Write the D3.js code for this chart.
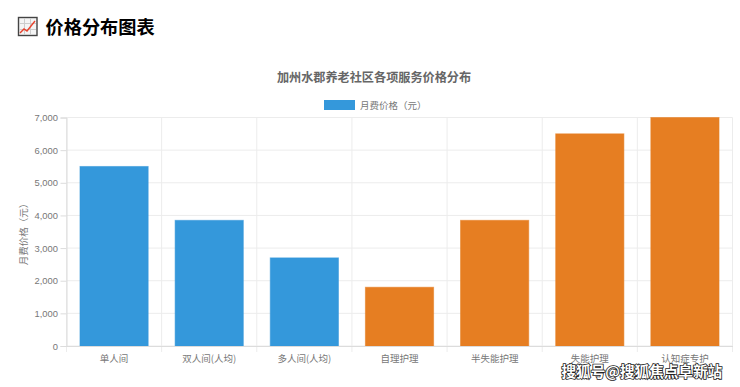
<!DOCTYPE html>
<html>
<head>
<meta charset="utf-8">
<script src="https://cdn.jsdelivr.net/npm/d3@7"></script>
<style>
    body { margin: 0; background: #fff; }
    svg { display: block; font-family: "Liberation Sans", "Noto Sans CJK SC", sans-serif; }
    .cjk { font-family: "Noto Sans CJK SC", sans-serif; }
</style>
</head>
<body>
<svg id="chart" width="740" height="387"></svg>
<script>
const categories = ["单人间", "双人间(人均)", "多人间(人均)", "自理护理", "半失能护理", "失能护理", "认知症专护"];
const prices = [5500, 3850, 2700, 1800, 3850, 6500, 7000];
const barColors = ["#3498db", "#3498db", "#3498db", "#e67e22", "#e67e22", "#e67e22", "#e67e22"];
const yTicks = [0, 1000, 2000, 3000, 4000, 5000, 6000, 7000];

const svg = d3.select("#chart");
const margin = { top: 117.5, right: 7.5, bottom: 41, left: 66.5 };
const width = 740 - margin.left - margin.right;
const height = 387 - margin.top - margin.bottom;

const x = d3.scaleBand().domain(categories).range([0, width]).paddingInner(0.283).paddingOuter(0.1415);
const y = d3.scaleLinear().domain([0, 7000]).range([height, 0]);
const step = width / categories.length;

// page heading with the little chart icon
const icon = svg.append("g").attr("transform", "translate(18,17)");
icon.append("rect").attr("x", 0.5).attr("y", 0.5).attr("width", 18.5).attr("height", 18)
    .attr("fill", "#f4f4f4").attr("stroke", "#444").attr("stroke-width", 1.4);
icon.append("path").attr("d", "M1 6.5H18M1 12.5H18M6.5 1V18M12.5 1V18").attr("stroke", "#ccc").attr("fill", "none");
icon.append("path").attr("d", "M2 16L6 12L9 14L17 4").attr("stroke", "#e8432e").attr("stroke-width", 1.4).attr("fill", "none");

svg.append("text").attr("class", "cjk").attr("x", 45.5).attr("y", 33.5)
    .attr("font-size", 18.2).attr("font-weight", 700).attr("fill", "#000")
    .text("价格分布图表");

svg.append("text").attr("class", "cjk").attr("x", 374).attr("y", 81.5)
    .attr("text-anchor", "middle").attr("font-size", 12.15).attr("font-weight", 700).attr("fill", "#666")
    .text("加州水郡养老社区各项服务价格分布");

// legend
svg.append("rect").attr("x", 324).attr("y", 100).attr("width", 31).attr("height", 10).attr("fill", "#3498db");
svg.append("text").attr("class", "cjk").attr("x", 360).attr("y", 108.5)
    .attr("font-size", 9.5).attr("fill", "#777").text("月费价格（元）");

const g = svg.append("g").attr("transform", `translate(${margin.left},${margin.top})`);

// gridlines
g.append("g").selectAll("line").data(yTicks).enter().append("line")
    .attr("x1", 0).attr("x2", width).attr("y1", d => y(d)).attr("y2", d => y(d))
    .attr("stroke", "#ececec");
g.append("g").selectAll("line").data(d3.range(categories.length + 1)).enter().append("line")
    .attr("x1", d => d * step).attr("x2", d => d * step).attr("y1", 0).attr("y2", height + 6)
    .attr("stroke", "#ececec");

// bars, the border is the same colour at lower opacity
g.selectAll(".bar").data(categories).enter().append("rect")
    .attr("class", "bar")
    .attr("x", d => x(d))
    .attr("y", (d, i) => y(prices[i]))
    .attr("width", x.bandwidth())
    .attr("height", (d, i) => height - y(prices[i]))
    .attr("fill", (d, i) => barColors[i])
    .attr("stroke", (d, i) => barColors[i])
    .attr("stroke-opacity", 0.55);

// axes
const yAxis = g.append("g").call(d3.axisLeft(y).tickValues(yTicks).tickFormat(d3.format(",")).tickSize(6).tickPadding(2.5));
yAxis.select(".domain").attr("stroke", "#dcdcdc");
yAxis.selectAll("line").attr("stroke", "#dcdcdc");
yAxis.selectAll("text").attr("font-size", 9.4).attr("fill", "#777").attr("font-family", "Liberation Sans");

const xAxis = g.append("g").attr("transform", `translate(0,${height})`)
    .call(d3.axisBottom(x).tickSize(0).tickPadding(9));
xAxis.select(".domain").attr("stroke", "#dcdcdc");
xAxis.selectAll("text").attr("font-size", 9.5).attr("fill", "#777").attr("font-family", "Noto Sans CJK SC");

svg.append("text").attr("class", "cjk")
    .attr("transform", "translate(27,232) rotate(-90)")
    .attr("text-anchor", "middle").attr("font-size", 9.5).attr("fill", "#777")
    .text("月费价格（元）");

// watermark
svg.append("text").attr("class", "cjk").attr("x", 561.5).attr("y", 377)
    .attr("font-size", 14.6).attr("font-weight", 700).attr("fill", "#fff")
    .attr("stroke", "#222").attr("stroke-width", 1.6).attr("paint-order", "stroke")
    .text("搜狐号@搜狐焦点阜新站");
</script>
</body>
</html>
